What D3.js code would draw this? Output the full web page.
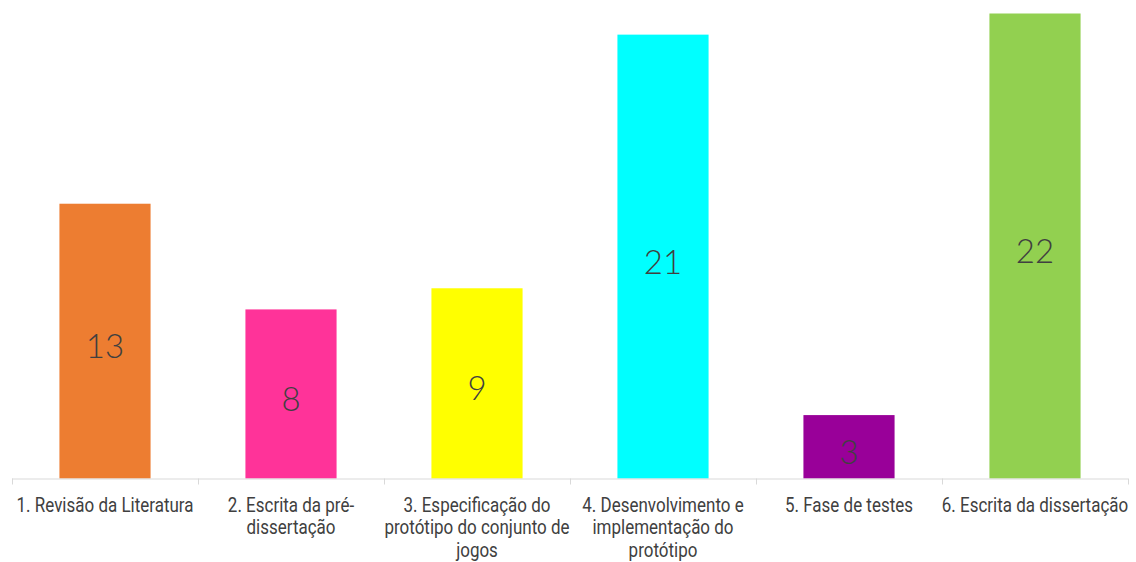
<!DOCTYPE html>
<html><head><meta charset="utf-8">
<script src="https://cdn.jsdelivr.net/npm/d3@7"></script>
<style>
html,body{margin:0;padding:0;background:#fff;}
svg{display:block;}
</style></head>
<body>
<svg id="chart" width="1136" height="562"></svg>
<script>
const categories = [
  "1. Revisão da Literatura",
  "2. Escrita da pré-\ndissertação",
  "3. Especificação do\nprotótipo do conjunto de\njogos",
  "4. Desenvolvimento e\nimplementação do\nprotótipo",
  "5. Fase de testes",
  "6. Escrita da dissertação"
];
const values = [13, 8, 9, 21, 3, 22];
const colors = ["#ED7D31", "#FF3399", "#FFFF00", "#00FFFF", "#990099", "#92D050"];

const W = 1136, H = 562;
const margin = {left: 12, right: 8, top: 13.5, bottom: 83.5};
const svg = d3.select("#chart");

const x = d3.scaleBand().domain(categories).range([margin.left, W - margin.right]).paddingInner(0.51).paddingOuter(0.255);
const y = d3.scaleLinear().domain([0, 22]).range([H - margin.bottom, margin.top]);

const base = y(0);

// bars
svg.selectAll("rect.bar").data(values).join("rect")
  .attr("class","bar")
  .attr("x", (d,i) => x(categories[i]))
  .attr("width", x.bandwidth())
  .attr("y", d => y(d))
  .attr("height", d => base - y(d))
  .attr("fill", (d,i) => colors[i]);

// axis line and dividers
const step = x.step();
svg.append("line").attr("x1", margin.left).attr("x2", W - margin.right)
  .attr("y1", base + 0.5).attr("y2", base + 0.5)
  .attr("stroke", "#d9d9d9").attr("stroke-width", 1);
const edges = d3.range(categories.length + 1).map(i => margin.left + i * step);
svg.selectAll("line.div").data(edges).join("line").attr("class","div")
  .attr("x1", d => Math.round(d) + 0.5).attr("x2", d => Math.round(d) + 0.5)
  .attr("y1", base).attr("y2", base + 6)
  .attr("stroke", "#d9d9d9").attr("stroke-width", 1);

// category labels (condensed horizontally to mimic a narrow face)
const labG = svg.selectAll("g.cat").data(categories).join("g")
  .attr("class","cat")
  .attr("transform", d => `translate(${x(d) + x.bandwidth()/2},${base + 33})`);
const lab = labG.append("text")
  .attr("text-anchor","middle")
  .attr("font-family","Roboto, 'Noto Sans', sans-serif")
  .attr("font-size", 20)
  .attr("fill","#404040");
lab.each(function(d){
  const t = d3.select(this);
  d.split("\n").forEach((line, j) => {
    t.append("tspan").attr("x", 0).attr("y", j * 23).text(line);
  });
});
const refW = lab.nodes()[0].getComputedTextLength();
const sx = 177 / refW;
lab.attr("transform", `scale(${sx},1)`);

// value labels
svg.selectAll("text.val").data(values).join("text")
  .attr("class","val")
  .attr("text-anchor","middle")
  .attr("dominant-baseline","central")
  .attr("font-family","Lato, 'Open Sans', sans-serif")
  .attr("font-weight", 300)
  .attr("font-size", 33)
  .attr("fill","#404040")
  .attr("x", (d,i) => x(categories[i]) + x.bandwidth()/2)
  .attr("y", d => (y(d) + base)/2 + 4)
  .text(d => d);
</script>
</body></html>
